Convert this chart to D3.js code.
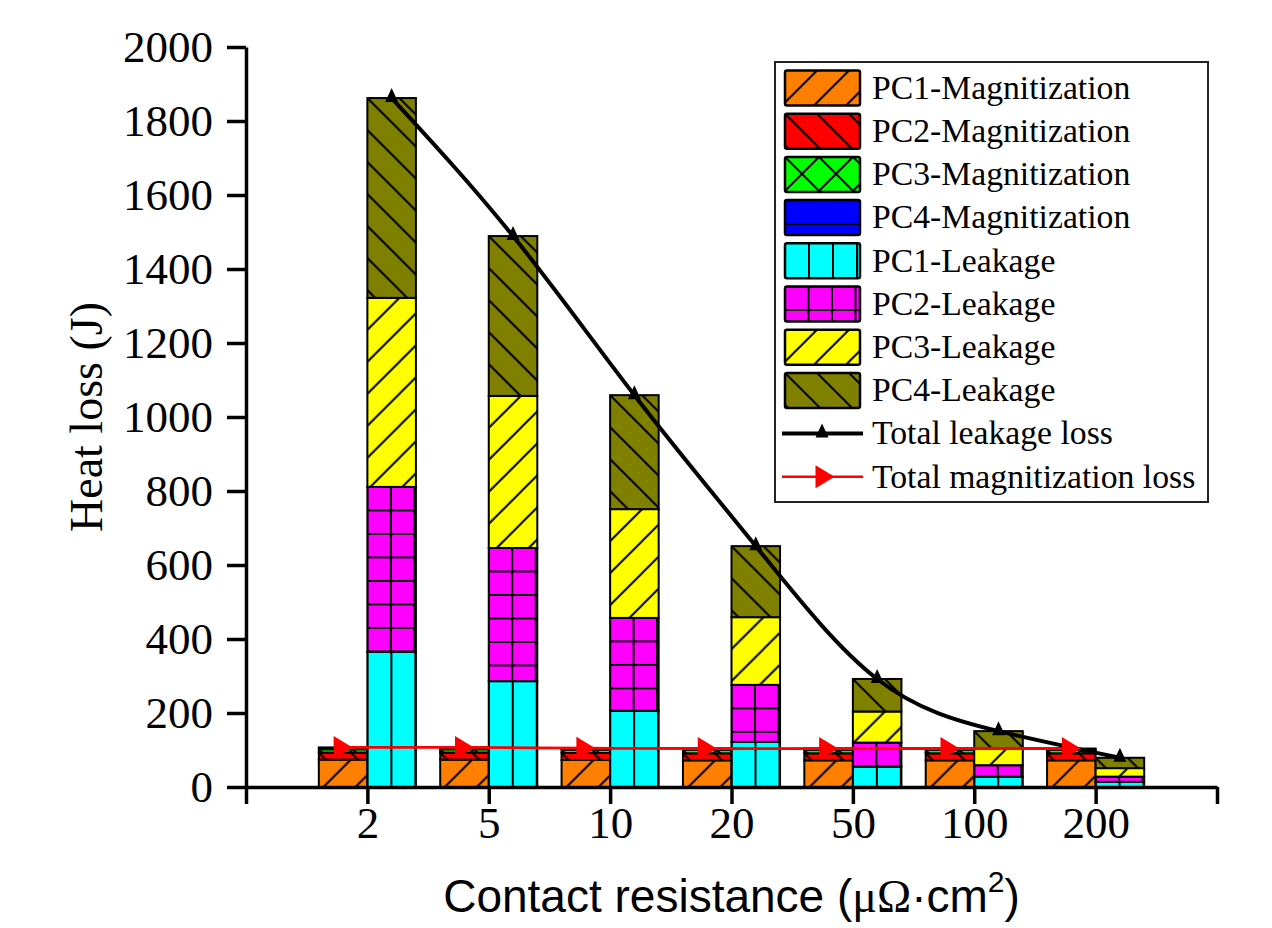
<!DOCTYPE html>
<html>
<head>
<meta charset="utf-8">
<script src="https://cdn.jsdelivr.net/npm/d3@7"></script>
<style>
  html, body { margin: 0; padding: 0; background: #fff; }
  svg { display: block; }
</style>
</head>
<body>
<svg id="chart" width="1272" height="928"></svg>
<script>
// Contact resistance categories (μΩ·cm²)
const categories = ["2", "5", "10", "20", "50", "100", "200"];

// Magnetization heat loss per coil (J)
const pc1Magnetization = [74, 74, 73, 72, 72, 72, 72];
const pc2Magnetization = [19, 19, 19, 19, 19, 19, 19];
const pc3Magnetization = [9, 9, 9, 9, 9, 9, 9];
const pc4Magnetization = [5, 5, 4, 4, 4, 4, 4];

// Leakage heat loss per coil (J)
const pc1Leakage = [365, 286, 206, 122, 55, 28, 14];
const pc2Leakage = [446, 360, 251, 154, 65, 31, 14];
const pc3Leakage = [511, 411, 294, 183, 84, 44, 23];
const pc4Leakage = [540, 432, 308, 192, 88, 48, 28];

const yTickValues = [0, 200, 400, 600, 800, 1000, 1200, 1400, 1600, 1800, 2000];

const magSeries = [
  { name: "PC1-Magnitization", values: pc1Magnetization, color: "#FF8000", hatch: "fwd" },
  { name: "PC2-Magnitization", values: pc2Magnetization, color: "#FF0000", hatch: "back" },
  { name: "PC3-Magnitization", values: pc3Magnetization, color: "#00FF00", hatch: "cross" },
  { name: "PC4-Magnitization", values: pc4Magnetization, color: "#0000FF", hatch: "horiz" }
];
const leakSeries = [
  { name: "PC1-Leakage", values: pc1Leakage, color: "#00FFFF", hatch: "vert" },
  { name: "PC2-Leakage", values: pc2Leakage, color: "#FF00FF", hatch: "grid" },
  { name: "PC3-Leakage", values: pc3Leakage, color: "#FFFF00", hatch: "fwd" },
  { name: "PC4-Leakage", values: pc4Leakage, color: "#808000", hatch: "back" }
];

const totalLeakage = categories.map((c, i) => d3.sum(leakSeries, s => s.values[i]));
const totalMagnetization = categories.map((c, i) => d3.sum(magSeries, s => s.values[i]));

const SERIF = "'Liberation Serif', 'Times New Roman', serif";
const SANS = "'Liberation Sans', Arial, sans-serif";

const svg = d3.select("#chart");
const defs = svg.append("defs");

const x = d3.scaleLinear().domain([0, categories.length + 1]).range([246, 1217]);
const y = d3.scaleLinear().domain([0, 2000]).range([787, 47]);
const barW = (x(1) - x(0)) * 0.4;

// ---- hatch patterns, anchored at the top-left corner of each shape ----
let patCount = 0;
function hatchFill(hatch, color, ax, ay) {
  const id = "hatch" + (patCount++);
  let s, ox = ax, oy = ay, d;
  if (hatch === "fwd") {
    s = 32;
    d = `M0,${s}L${s},0M-2,2L2,-2M${s - 2},${s + 2}L${s + 2},${s - 2}`;
  } else if (hatch === "back") {
    s = 32;
    d = `M0,0L${s},${s}M-2,${s - 2}L2,${s + 2}M${s - 2},-2L${s + 2},2`;
  } else if (hatch === "cross") {
    s = 34;
    d = `M0,${s}L${s},0M-2,2L2,-2M${s - 2},${s + 2}L${s + 2},${s - 2}` +
        `M0,0L${s},${s}M-2,${s - 2}L2,${s + 2}M${s - 2},-2L${s + 2},2`;
  } else if (hatch === "vert") {
    s = 24; ox = ax + s / 2;
    d = `M${s / 2},0L${s / 2},${s}`;
  } else if (hatch === "horiz") {
    s = 24; oy = ay + s / 2;
    d = `M0,${s / 2}L${s},${s / 2}`;
  } else { // grid
    s = 23.5; ox = ax + s / 2; oy = ay + s / 2;
    d = `M${s / 2},0L${s / 2},${s}M0,${s / 2}L${s},${s / 2}`;
  }
  const p = defs.append("pattern")
    .attr("id", id)
    .attr("patternUnits", "userSpaceOnUse")
    .attr("x", ox).attr("y", oy)
    .attr("width", s).attr("height", s);
  p.append("rect").attr("width", s).attr("height", s).attr("fill", color);
  p.append("path").attr("d", d).attr("stroke", "#000").attr("stroke-width", 2).attr("fill", "none");
  return `url(#${id})`;
}

// ---- stacked bars ----
function drawStack(series, offset) {
  const rows = categories.map((c, i) => {
    const r = { cat: c };
    series.forEach(s => { r[s.name] = s.values[i]; });
    return r;
  });
  const stacked = d3.stack().keys(series.map(s => s.name))(rows);
  const g = svg.append("g");
  stacked.forEach((layer, k) => {
    const s = series[k];
    layer.forEach((seg, i) => {
      const bx = x(i + 1) + offset;
      const top = y(seg[1]);
      const h = y(seg[0]) - y(seg[1]);
      g.append("rect")
        .attr("x", bx).attr("y", top)
        .attr("width", barW).attr("height", h)
        .attr("fill", hatchFill(s.hatch, s.color, bx, top))
        .attr("stroke", "#000")
        .attr("stroke-width", 2);
    });
  });
}
drawStack(magSeries, -barW);
drawStack(leakSeries, 0);

// ---- total lines ----
const leakLine = d3.line()
  .x((d, i) => x(i + 1) + barW / 2)
  .y(d => y(d))
  .curve(d3.curveNatural);
const magLine = d3.line()
  .x((d, i) => x(i + 1) - barW / 2)
  .y(d => y(d))
  .curve(d3.curveNatural);

svg.append("path").datum(totalMagnetization)
  .attr("d", magLine).attr("fill", "none")
  .attr("stroke", "#FF0000").attr("stroke-width", 2.8);
svg.append("path").datum(totalLeakage)
  .attr("d", leakLine).attr("fill", "none")
  .attr("stroke", "#000").attr("stroke-width", 4);

const triUp = "M0,-10L6.5,4L-6.5,4Z";
const triRight = "M-9.5,-11.5L-9.5,11.5L9.5,0Z";

svg.append("g").selectAll("path").data(totalMagnetization).join("path")
  .attr("transform", (d, i) => `translate(${x(i + 1) - barW / 2},${y(d)})`)
  .attr("d", triRight).attr("fill", "#FF0000");
svg.append("g").selectAll("path").data(totalLeakage).join("path")
  .attr("transform", (d, i) => `translate(${x(i + 1) + barW / 2},${y(d)})`)
  .attr("d", triUp).attr("fill", "#000");

// ---- axes ----
const yAxis = d3.axisLeft(y).tickValues(yTickValues).tickSize(19).tickSizeOuter(0).tickPadding(14)
  .tickFormat(d3.format("d"));
const xAxis = d3.axisBottom(x)
  .tickValues(d3.range(0, categories.length + 2))
  .tickSize(17).tickSizeOuter(0).tickPadding(2)
  .tickFormat(i => categories[i - 1] || "");

const gy = svg.append("g").attr("transform", `translate(${x(0)},0)`).call(yAxis);
const gx = svg.append("g").attr("transform", `translate(0,${y(0)})`).call(xAxis);

[gx, gy].forEach(g => {
  g.select(".domain").attr("stroke", "#000").attr("stroke-width", 3.5);
  g.selectAll(".tick line").attr("stroke", "#000").attr("stroke-width", 3.5);
  g.selectAll(".tick text")
    .attr("fill", "#000")
    .style("font-family", SERIF)
    .style("font-size", "45px");
});

// axis titles
svg.append("text")
  .attr("transform", `translate(102,${(y(0) + y(2000)) / 2}) rotate(-90)`)
  .attr("text-anchor", "middle")
  .style("font-family", SERIF).style("font-size", "46px")
  .attr("fill", "#000")
  .text("Heat loss (J)");

const xt = svg.append("text")
  .attr("x", (x(0) + x(categories.length + 1)) / 2)
  .attr("y", 912)
  .attr("text-anchor", "middle")
  .style("font-family", SANS).style("font-size", "46px")
  .attr("fill", "#000");
xt.append("tspan").text("Contact resistance (");
xt.append("tspan").style("font-family", SERIF).text("μΩ");
xt.append("tspan").text("·cm");
xt.append("tspan").attr("dy", -20).style("font-size", "30px").text("2");
xt.append("tspan").attr("dy", 20).text(")");

// ---- legend ----
const legend = svg.append("g");
legend.append("rect")
  .attr("x", 775).attr("y", 62).attr("width", 433).attr("height", 440)
  .attr("fill", "#fff").attr("stroke", "#222").attr("stroke-width", 2);

const rowY = i => 88 + 43.2 * i;
const allBars = magSeries.concat(leakSeries);
allBars.forEach((s, i) => {
  const cy = rowY(i);
  legend.append("rect")
    .attr("x", 785).attr("y", cy - 17.5).attr("width", 75).attr("height", 35)
    .attr("rx", 2)
    .attr("fill", hatchFill(s.hatch, s.color, 785, cy - 17.5))
    .attr("stroke", "#000").attr("stroke-width", 2.5);
  legend.append("text")
    .attr("x", 872).attr("y", cy).attr("dy", "0.32em")
    .style("font-family", SERIF).style("font-size", "33.7px")
    .attr("fill", "#000").text(s.name);
});

const lineEntries = [
  { name: "Total leakage loss", color: "#000", width: 4, marker: triUp, mx: 822 },
  { name: "Total magnitization loss", color: "#FF0000", width: 2.5, marker: triRight, mx: 825 }
];
lineEntries.forEach((e, j) => {
  const cy = rowY(allBars.length + j);
  legend.append("line")
    .attr("x1", 782).attr("x2", 863).attr("y1", cy).attr("y2", cy)
    .attr("stroke", e.color).attr("stroke-width", e.width);
  legend.append("path")
    .attr("transform", `translate(${e.mx},${cy})`)
    .attr("d", e.marker).attr("fill", e.color);
  legend.append("text")
    .attr("x", 872).attr("y", cy).attr("dy", "0.32em")
    .style("font-family", SERIF).style("font-size", "33.7px")
    .attr("fill", "#000").text(e.name);
});
</script>
</body>
</html>
